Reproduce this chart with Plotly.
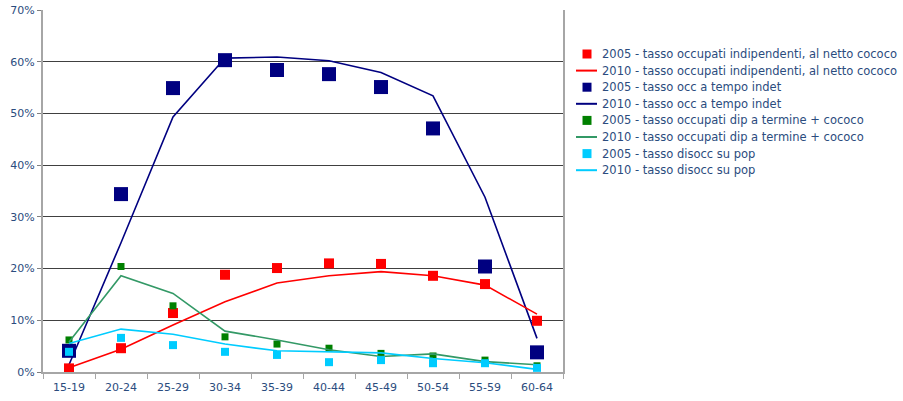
import plotly.graph_objects as go

age_groups = ["15-19", "20-24", "25-29", "30-34", "35-39",
              "40-44", "45-49", "50-54", "55-59", "60-64"]

# Rates by age group (fractions of population)
indip_2005 = [0.007, 0.046, 0.114, 0.188, 0.201, 0.210, 0.209, 0.186, 0.170, 0.099]
indip_2010 = [0.008, 0.044, 0.091, 0.136, 0.172, 0.186, 0.194, 0.186, 0.168, 0.112]
indet_2005 = [0.041, 0.344, 0.549, 0.603, 0.584, 0.576, 0.551, 0.471, 0.204, 0.038]
indet_2010 = [0.014, 0.250, 0.493, 0.607, 0.609, 0.602, 0.579, 0.534, 0.338, 0.065]
termine_2005 = [0.062, 0.204, 0.128, 0.068, 0.054, 0.046, 0.036, 0.031, 0.023, 0.012]
termine_2010 = [0.058, 0.186, 0.152, 0.079, 0.062, 0.043, 0.030, 0.035, 0.020, 0.014]
disocc_2005 = [0.039, 0.066, 0.052, 0.039, 0.033, 0.019, 0.023, 0.017, 0.017, 0.008]
disocc_2010 = [0.055, 0.083, 0.073, 0.054, 0.041, 0.039, 0.037, 0.026, 0.018, 0.005]

y_ticks = [0, 0.1, 0.2, 0.3, 0.4, 0.5, 0.6, 0.7]
y_tick_labels = ["0%", "10%", "20%", "30%", "40%", "50%", "60%", "70%"]

series_labels = [
    "2005 - tasso occupati indipendenti, al netto cococo",
    "2010 - tasso occupati indipendenti, al netto cococo",
    "2005 - tasso occ a tempo indet",
    "2010 - tasso occ a tempo indet",
    "2005 - tasso occupati dip a termine + cococo",
    "2010 - tasso occupati dip a termine + cococo",
    "2005 - tasso disocc su pop",
    "2010 - tasso disocc su pop",
]

text_color = "#2B4C7E"
font_family = "DejaVu Sans"

W, H = 903, 401
M_L, M_R, M_T, M_B = 43, 340, 10, 29
PLOT_W = W - M_L - M_R
PLOT_H = H - M_T - M_B


def px_x(px):
    return (px - M_L) / PLOT_W


def px_y(py):
    return (H - M_B - py) / PLOT_H


fig = go.Figure()

# (label index, values, kind, colour, size/width)
series = [
    (2, indet_2005, "markers", "#000080", 14),
    (3, indet_2010, "lines", "#000080", 1.6),
    (0, indip_2005, "markers", "#FF0000", 10),
    (1, indip_2010, "lines", "#FF0000", 1.6),
    (4, termine_2005, "markers", "#008000", 7),
    (5, termine_2010, "lines", "#339966", 1.6),
    (6, disocc_2005, "markers", "#00CCFF", 8),
    (7, disocc_2010, "lines", "#00CCFF", 1.6),
]

legend_style = {}
for idx, vals, kind, color, size in series:
    legend_style[idx] = (kind, color)
    if kind == "markers":
        fig.add_trace(go.Scatter(
            x=age_groups, y=vals, name=series_labels[idx], mode="markers",
            marker=dict(symbol="square", size=size, color=color, line=dict(width=0)),
            showlegend=False,
        ))
    else:
        fig.add_trace(go.Scatter(
            x=age_groups, y=vals, name=series_labels[idx], mode="lines",
            line=dict(color=color, width=size),
            showlegend=False,
        ))

# Legend block at the right of the plot area
row_top, row_step = 54, 16.6
for i, label in enumerate(series_labels):
    kind, color = legend_style[i]
    yc = px_y(row_top + i * row_step)
    if kind == "markers":
        fig.add_shape(
            type="rect", xref="paper", yref="paper",
            xsizemode="pixel", ysizemode="pixel",
            xanchor=px_x(587), yanchor=yc,
            x0=-4.5, x1=4.5, y0=-4.5, y1=4.5,
            fillcolor=color, line=dict(width=0),
        )
    else:
        fig.add_shape(
            type="line", xref="paper", yref="paper",
            x0=px_x(576), x1=px_x(597), y0=yc, y1=yc,
            line=dict(color=color, width=2),
        )
    fig.add_annotation(
        text=label, xref="paper", yref="paper",
        x=px_x(600), y=yc, xanchor="left", yanchor="middle",
        showarrow=False, font=dict(family=font_family, size=11.5, color=text_color),
    )

fig.update_layout(
    width=W, height=H,
    margin=dict(l=M_L, r=M_R, t=M_T, b=M_B, autoexpand=False),
    paper_bgcolor="white", plot_bgcolor="white",
    font=dict(family=font_family, size=12, color=text_color),
    showlegend=False,
    xaxis=dict(
        type="category", categoryorder="array", categoryarray=age_groups,
        range=[-0.5, 9.5], showgrid=False, zeroline=False,
        showline=True, linecolor="#A6A6A6", linewidth=2,
        ticks="outside", tickson="boundaries", ticklen=5, tickcolor="#A6A6A6",
        ticklabelstandoff=4,
        tickfont=dict(size=11, color=text_color),
    ),
    yaxis=dict(
        range=[0, 0.7], tickvals=y_ticks, ticktext=y_tick_labels,
        showgrid=True, gridcolor="#404040", gridwidth=1, zeroline=False,
        showline=True, linecolor="#A6A6A6", linewidth=2, mirror=True,
        ticks="outside", ticklen=4, tickcolor="#808080",
        tickfont=dict(size=11, color=text_color),
    ),
)

fig.write_html("out.html")
